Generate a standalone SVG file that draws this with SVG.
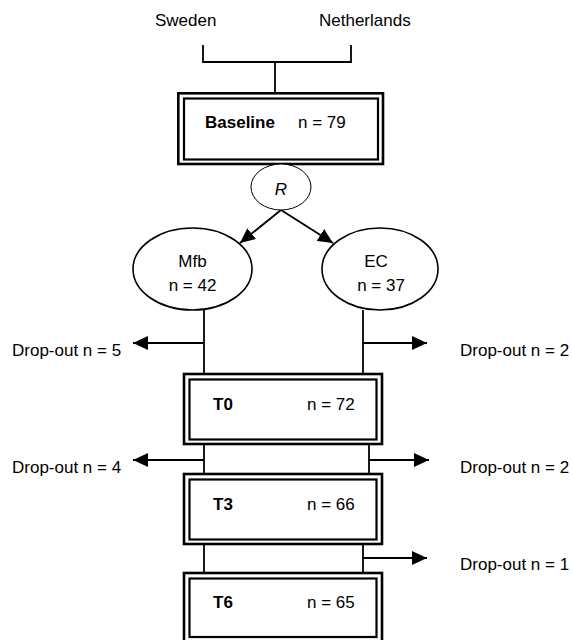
<svg xmlns="http://www.w3.org/2000/svg" width="572" height="640" viewBox="0 0 572 640">
<style>
text{font-family:"Liberation Sans",Arial,sans-serif;font-size:17px;fill:#000}
.b{font-weight:bold}
.m{text-anchor:middle}
.o{fill:none;stroke:#000;stroke-width:2.6}
.i{fill:#fff;stroke:#000;stroke-width:2.2}
.e{fill:#fff;stroke:#000;stroke-width:1.6}
.c{fill:none;stroke:#000;stroke-width:1.8}
</style>
<defs>
<marker id="ah" markerUnits="userSpaceOnUse" markerWidth="16" markerHeight="14" refX="15" refY="7" orient="auto">
<path d="M0,0 L15,7 L0,14 z" fill="#000"/>
</marker>
</defs>
<rect width="572" height="640" fill="#fff"/>
<g id="connectors">
<polyline class="c" points="203,45 203,62 351,62 351,45"/>
<line class="c" x1="275" y1="62" x2="275" y2="93"/>
<line class="c" x1="281" y1="210" x2="240" y2="243" marker-end="url(#ah)"/>
<line class="c" x1="281" y1="210" x2="333" y2="243" marker-end="url(#ah)"/>
<line class="c" x1="204" y1="310" x2="204" y2="375"/>
<line class="c" x1="363" y1="310" x2="363" y2="375"/>
<line class="c" x1="204" y1="343" x2="133" y2="343" marker-end="url(#ah)"/>
<line class="c" x1="363" y1="343" x2="427" y2="343" marker-end="url(#ah)"/>
<line class="c" x1="204" y1="444" x2="204" y2="475"/>
<line class="c" x1="369" y1="444" x2="369" y2="475"/>
<line class="c" x1="204" y1="460" x2="133" y2="460" marker-end="url(#ah)"/>
<line class="c" x1="369" y1="460" x2="429" y2="460" marker-end="url(#ah)"/>
<line class="c" x1="204" y1="544" x2="204" y2="574"/>
<line class="c" x1="363" y1="544" x2="363" y2="574"/>
<line class="c" x1="363" y1="558" x2="427" y2="558" marker-end="url(#ah)"/>
</g>
<g id="sweden"><text x="155" y="26">Sweden</text></g>
<g id="netherlands"><text x="319" y="26">Netherlands</text></g>
<g id="baseline">
<rect class="o" x="178.3" y="93.3" width="204.7" height="70.7"/>
<rect class="i" x="184" y="98.5" width="194" height="61"/>
<text class="b" x="205" y="128">Baseline</text>
<text x="298" y="128">n = 79</text>
</g>
<g id="r">
<ellipse cx="281" cy="187" rx="30" ry="23" fill="#fff" stroke="#000" stroke-width="1"/>
<text class="m" x="281" y="195" font-style="italic">R</text>
</g>
<g id="mfb">
<ellipse class="e" cx="192.5" cy="269" rx="59.5" ry="41"/>
<text class="m" x="192.5" y="267">Mfb</text>
<text class="m" x="192.5" y="291">n = 42</text>
</g>
<g id="ec">
<ellipse class="e" cx="380" cy="269" rx="58" ry="41"/>
<text class="m" x="376" y="267">EC</text>
<text class="m" x="381" y="291">n = 37</text>
</g>
<g id="dropout1"><text x="12" y="356">Drop-out n = 5</text></g>
<g id="dropout2"><text x="460" y="356">Drop-out n = 2</text></g>
<g id="t0">
<rect class="o" x="184" y="374" width="198" height="70"/>
<rect class="i" x="189.5" y="379.5" width="187" height="60"/>
<text class="b" x="213" y="410">T0</text>
<text x="307" y="410">n = 72</text>
</g>
<g id="dropout3"><text x="12" y="473">Drop-out n = 4</text></g>
<g id="dropout4"><text x="460" y="473">Drop-out n = 2</text></g>
<g id="t3">
<rect class="o" x="184" y="474" width="198" height="70"/>
<rect class="i" x="189.5" y="479.5" width="187" height="60"/>
<text class="b" x="213" y="510">T3</text>
<text x="307" y="510">n = 66</text>
</g>
<g id="dropout5"><text x="460" y="570">Drop-out n = 1</text></g>
<g id="t6">
<rect class="o" x="184" y="573" width="198" height="70"/>
<rect class="i" x="189.5" y="578.5" width="187" height="58.5"/>
<text class="b" x="213" y="608">T6</text>
<text x="307" y="608">n = 65</text>
</g>
</svg>
